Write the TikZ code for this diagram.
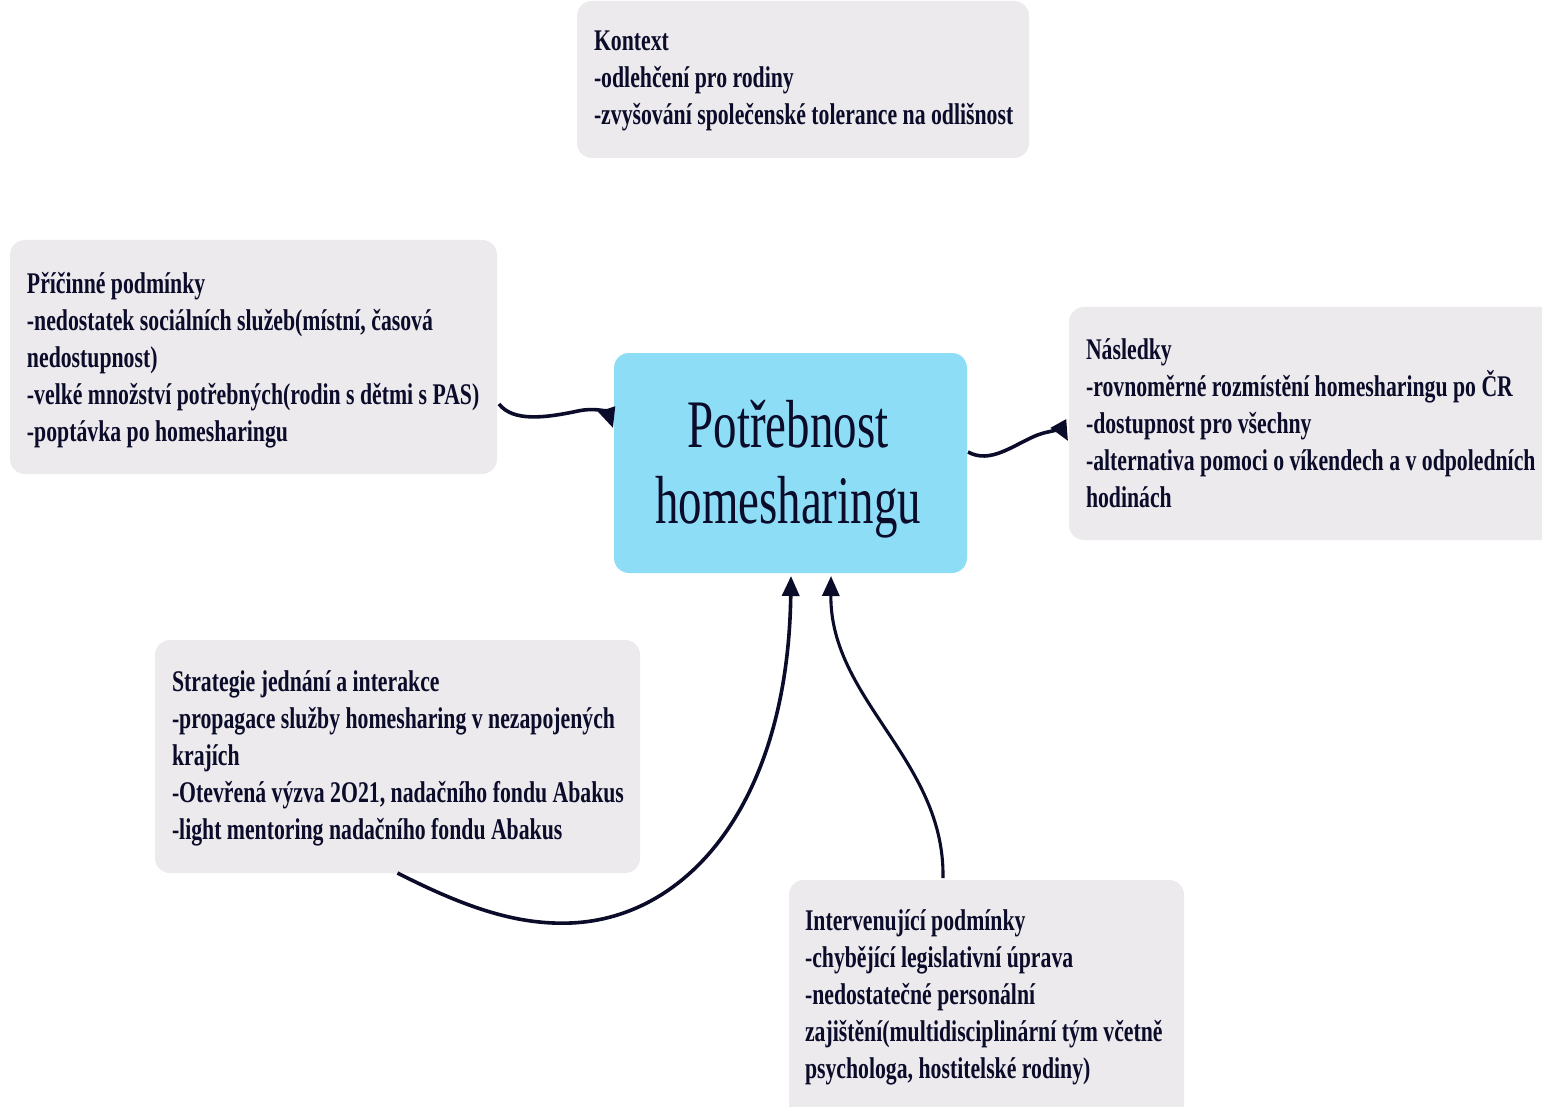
\documentclass[tikz,border=0pt]{standalone}
\usepackage{fontspec}
\setmainfont{Liberation Serif}[FakeStretch=0.725]
\newfontfamily\bigfont{Liberation Serif}[FakeStretch=0.69]
\usetikzlibrary{arrows.meta,calc}
\definecolor{boxgray}{HTML}{ECEAED}
\definecolor{centerblue}{HTML}{8EDDF7}
\definecolor{ink}{HTML}{0B0B2A}
\tikzset{
  panel/.style={fill=boxgray, rounded corners=15pt, draw=none, inner sep=0pt, outer sep=0pt, anchor=north west},
  hub/.style={fill=centerblue, rounded corners=15pt, draw=none, inner sep=0pt, outer sep=0pt, anchor=north west},
  txt/.style={anchor=north west, inner sep=0pt, outer sep=0pt, align=left, text=ink, font=\bfseries\fontsize{30}{37}\selectfont},
  bigtxt/.style={anchor=north, inner sep=0pt, outer sep=0pt, align=center, text=ink, font=\bigfont\fontsize{68}{76}\selectfont},
  conn/.style={draw=ink, line width=3.6pt, -{Triangle[length=20pt,width=17pt]}}
}
\begin{document}
\begin{tikzpicture}[x=1pt,y=-1pt]
\useasboundingbox (0,0) rectangle (1542,1107);
\clip (0,0) rectangle (1542,1107);
\fill[white] (0,0) rectangle (1542,1107);
% boxes
\node[panel, minimum width=452pt, minimum height=157pt] (ctx) at (577,1) {};
\node[panel, minimum width=487pt, minimum height=234pt] (pri) at (10,240) {};
\node[panel, minimum width=490pt, minimum height=233pt] (nas) at (1069,307) {};
\node[panel, minimum width=485pt, minimum height=233pt] (str) at (155,640) {};
\node[panel, minimum width=395pt, minimum height=250pt] (int) at (789,880) {};
\node[hub, minimum width=353pt, minimum height=220pt] (cen) at (614,353) {};
% texts
\node[txt] (ctxt) at (594,25) {\rule{0pt}{26pt}Kontext\\-odlehčení pro rodiny\\-zvyšování společenské tolerance na odlišnost};
\node[txt] (prit) at (27,267) {\rule{0pt}{26pt}Příčinné podmínky\\-nedostatek sociálních služeb(místní, časová\\nedostupnost)\\-velké množství potřebných(rodin s dětmi s PAS)\\-poptávka po homesharingu};
\node[txt] (nast) at (1086,333) {\rule{0pt}{26pt}Následky\\-rovnoměrné rozmístění homesharingu po ČR\\-dostupnost pro všechny\\-alternativa pomoci o víkendech a v odpoledních\\hodinách};
\node[txt] (strt) at (172,665) {\rule{0pt}{26pt}Strategie jednání a interakce\\-propagace služby homesharing v nezapojených\\krajích\\-Otevřená výzva 2O21, nadačního fondu Abakus\\-light mentoring nadačního fondu Abakus};
\node[txt] (intt) at (805,904) {\rule{0pt}{26pt}Intervenující podmínky\\-chybějící legislativní úprava\\-nedostatečné personální\\zajištění(multidisciplinární tým včetně\\psychologa, hostitelské rodiny)};
\node[bigtxt] (cent) at (788,387) {\rule{0pt}{60pt}Potřebnost\\homesharingu};
% connectors
\draw[conn] ([xshift=2pt,yshift=-47pt]pri.east) .. controls +(14,18) and (545,418) .. (578,411) .. controls (597,407) and (608,413) .. ([xshift=-1pt,yshift=35pt]cen.west);
\draw[conn] ([xshift=1pt,yshift=11pt]cen.east) .. controls (990,464) and (1012,446) .. (1035,436) .. controls (1052,429) and (1063,432) .. ([xshift=-1pt,yshift=-17.5pt]nas.west);
\draw[conn] (str.south) .. controls (470,910) and (520,925) .. (571,923) .. controls (690,918) and (788,800) .. ([xshift=0.5pt,yshift=-3pt]cen.south);
\draw[conn, line width=3.1pt] ([xshift=-43.5pt,yshift=2pt]int.north) .. controls (945,760) and (830,700) .. ([xshift=40.5pt,yshift=-3pt]cen.south);
\end{tikzpicture}
\end{document}
